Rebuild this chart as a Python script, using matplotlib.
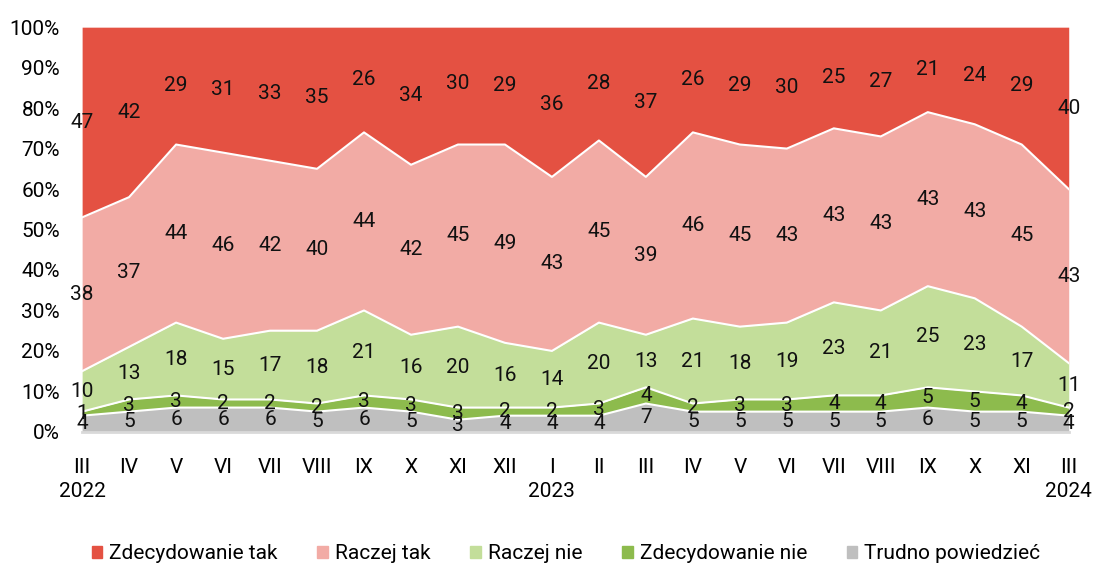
import numpy as np
import matplotlib.pyplot as plt
from matplotlib.patches import Patch

plt.rcParams['font.family'] = ['Roboto', 'DejaVu Sans']

months = ['III\n2022', 'IV', 'V', 'VI', 'VII', 'VIII', 'IX', 'X', 'XI', 'XII',
          'I\n2023', 'II', 'III', 'IV', 'V', 'VI', 'VII', 'VIII', 'IX', 'X', 'XI',
          'III\n2024']

trudno = [4, 5, 6, 6, 6, 5, 6, 5, 3, 4, 4, 4, 7, 5, 5, 5, 5, 5, 6, 5, 5, 4]
zdec_nie = [1, 3, 3, 2, 2, 2, 3, 3, 3, 2, 2, 3, 4, 2, 3, 3, 4, 4, 5, 5, 4, 2]
raczej_nie = [10, 13, 18, 15, 17, 18, 21, 16, 20, 16, 14, 20, 13, 21, 18, 19, 23, 21, 25, 23, 17, 11]
raczej_tak = [38, 37, 44, 46, 42, 40, 44, 42, 45, 49, 43, 45, 39, 46, 45, 43, 43, 43, 43, 43, 45, 43]
zdec_tak = [47, 42, 29, 31, 33, 35, 26, 34, 30, 29, 36, 28, 37, 26, 29, 30, 25, 27, 21, 24, 29, 40]

series = [trudno, zdec_nie, raczej_nie, raczej_tak, zdec_tak]
names = ['Trudno powiedzieć', 'Zdecydowanie nie', 'Raczej nie', 'Raczej tak', 'Zdecydowanie tak']
colors = ['#BFBFBF', '#8DBB4D', '#C3DE9A', '#F2ABA5', '#E45142']

x = np.arange(len(months))
fig = plt.figure(figsize=(10.95, 5.66), dpi=100)
ax = fig.add_axes([0.075, 0.237, 0.901, 0.715])

# stacked areas; the top layer fills up to 100%
base = np.zeros(len(x))
for i, (s, c) in enumerate(zip(series, colors)):
    s = np.array(s)
    top = base + s if i < len(series) - 1 else np.full(len(x), 100.0)
    ax.fill_between(x, base, top, color=c, lw=0, zorder=1)
    if i > 0:
        ax.plot(x, base, color='white', lw=1.5, zorder=2)
    for xi, b, v in zip(x, base, s):
        ax.text(xi, b + v / 2, str(v), ha='center', va='center', fontsize=15,
                color='#111111', zorder=3)
    base = base + s

ax.set_xlim(0, len(x) - 1)
ax.set_ylim(0, 100)
ax.set_yticks(range(0, 101, 10))
ax.set_yticklabels([f'{v}%' for v in range(0, 101, 10)], fontsize=15)
ax.set_xticks(x)
ax.set_xticklabels(months, fontsize=15, linespacing=1.3)
ax.tick_params(axis='y', length=0, pad=16)
ax.tick_params(axis='x', length=0, pad=19)
for sp in ['top', 'right', 'left']:
    ax.spines[sp].set_visible(False)
ax.spines['bottom'].set_color('#D9D9D9')
ax.spines['bottom'].set_linewidth(2)
ax.spines['bottom'].set_zorder(2.5)

handles = [Patch(color=c) for c in colors][::-1]
fig.legend(handles, names[::-1], loc='center', bbox_to_anchor=(0.517, 0.022),
           ncol=5, frameon=False, fontsize=15, handlelength=0.5, handleheight=0.5,
           handletextpad=0.35, columnspacing=1.9)

fig.savefig('out.png', dpi=100)
